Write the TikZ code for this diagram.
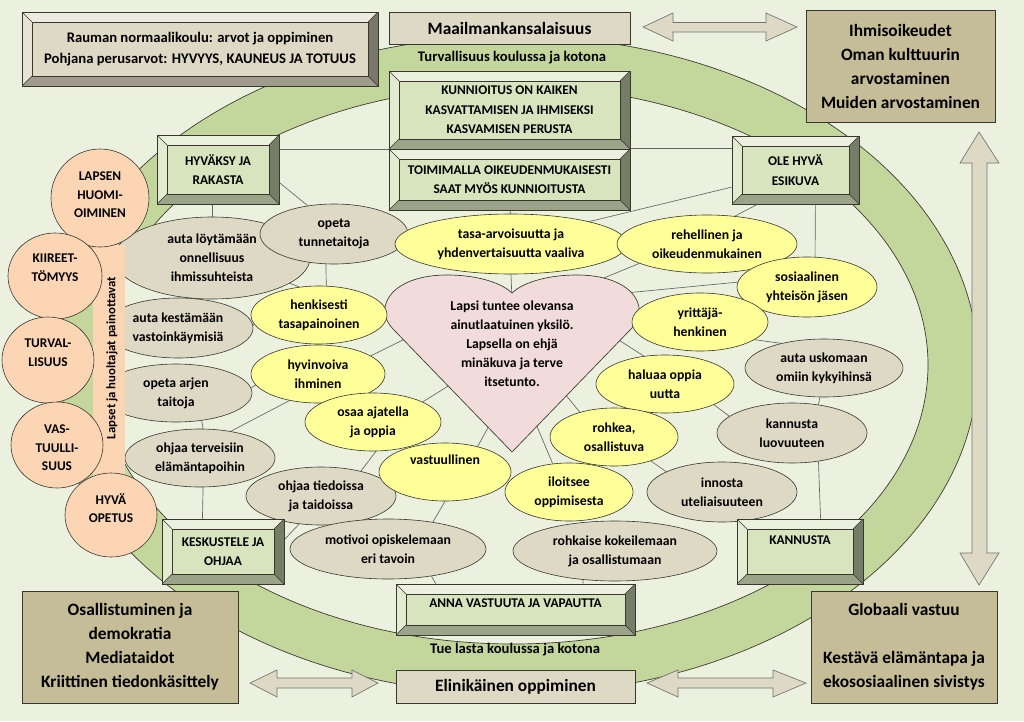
\documentclass[tikz,border=0pt]{standalone}
\usepackage{fontspec}
\setmainfont{Carlito}
\usetikzlibrary{shapes.geometric,calc}
\pgfdeclarelayer{ringl}\pgfdeclarelayer{conn}
\pgfsetlayers{ringl,conn,main}
\definecolor{bgc}{RGB}{235,241,222}
\definecolor{ringc}{RGB}{195,214,155}
\definecolor{tanl}{RGB}{221,217,196}
\definecolor{tand}{RGB}{196,189,151}
\definecolor{boxg}{RGB}{215,228,189}
\definecolor{ylw}{RGB}{255,255,153}
\definecolor{peach}{RGB}{252,213,181}
\definecolor{pinkh}{RGB}{242,220,219}
\definecolor{edge}{RGB}{55,55,45}
\newcommand\fnE{\bfseries\fontsize{10.3}{14.2}\selectfont}
\newcommand\fnC{\bfseries\fontsize{10}{14.5}\selectfont}
\newcommand\fnB{\bfseries\fontsize{13}{18}\selectfont}
\newcommand\fnT{\bfseries\fontsize{11}{15.75}\selectfont}
\newcommand\fnK{\bfseries\fontsize{10}{14}\selectfont}
\newcommand\fnV{\bfseries\fontsize{9.6}{12}\selectfont}
\tikzset{
 el/.style 2 args={ellipse, draw=edge, line width=.45pt, inner sep=0pt, align=center, font=\fnE, minimum width={#1*1.5pt}, minimum height={#2*1.5pt}},
 gel/.style 2 args={el={#1}{#2}, fill=tanl},
 yel/.style 2 args={el={#1}{#2}, fill=ylw},
 circ/.style 2 args={ellipse, draw=edge, fill=peach, line width=.45pt, inner sep=0pt, minimum width={#1*1.5pt}, minimum height={#2*1.5pt}},
 ctext/.style={align=center, font=\fnK},
 flat/.style={rectangle, draw=edge, line width=.6pt, inner sep=0pt, align=center, font=\fnB},
 bevel/.style={rectangle, draw=edge, line width=.6pt, inner sep=0pt, align=center,
  path picture={
   \path (path picture bounding box.north west) coordinate (bnw)
         (path picture bounding box.north east) coordinate (bne)
         (path picture bounding box.south west) coordinate (bsw)
         (path picture bounding box.south east) coordinate (bse);
   \fill[white, fill opacity=.5] (bnw) -- (bne) -- ([xshift=-7.5pt,yshift=-7.5pt]bne) -- ([xshift=7.5pt,yshift=-7.5pt]bnw) -- cycle;
   \fill[white, fill opacity=.3] (bnw) -- (bsw) -- ([xshift=7.5pt,yshift=7.5pt]bsw) -- ([xshift=7.5pt,yshift=-7.5pt]bnw) -- cycle;
   \fill[black, fill opacity=.45] (bne) -- (bse) -- ([xshift=-7.5pt,yshift=7.5pt]bse) -- ([xshift=-7.5pt,yshift=-7.5pt]bne) -- cycle;
   \fill[black, fill opacity=.28] (bsw) -- (bse) -- ([xshift=-7.5pt,yshift=7.5pt]bse) -- ([xshift=7.5pt,yshift=7.5pt]bsw) -- cycle;
   \draw[edge, line width=.4pt] ([xshift=7.5pt,yshift=-7.5pt]bnw) rectangle ([xshift=-7.5pt,yshift=7.5pt]bse);
   \draw[edge, line width=.4pt] (bnw) -- ([xshift=7.5pt,yshift=-7.5pt]bnw) (bne) -- ([xshift=-7.5pt,yshift=-7.5pt]bne)
     (bsw) -- ([xshift=7.5pt,yshift=7.5pt]bsw) (bse) -- ([xshift=-7.5pt,yshift=7.5pt]bse);
  }},
 gbox/.style={bevel, fill=boxg, font=\fnC},
 cn/.style={draw=black!60, line width=.5pt},
 arrw/.style={fill=tanl, draw=black!55, line width=.5pt},
}
\begin{document}
\begin{tikzpicture}[x=0.75pt, y=-0.75pt]
\useasboundingbox (0,0) rectangle (1024,721);
\begin{pgfonlayer}{ringl}
\fill[bgc] (0,0) rectangle (1024,721);
\draw[edge, line width=.5pt, fill=ringc, even odd rule] (513,365) ellipse [x radius=465, y radius=329] (513,365) ellipse [x radius=415, y radius=279];
\end{pgfonlayer}

% grey ellipses
\node[gel={98}{41}] (loyt) at (212,258) {auta löytämään\\onnellisuus\\ihmissuhteista};
\node[gel={74}{30}] (tunne) at (334,234) {opeta\\tunnetaitoja};
\node[gel={75}{30}] (kest) at (178,328) {auta kestämään\\vastoinkäymisiä};
\node[gel={76}{29}] (arjen) at (176,393) {opeta arjen\\taitoja};
\node[gel={75}{29}] (terv) at (200,458) {ohjaa terveisiin\\elämäntapoihin};
\node[gel={75}{29}] (tied) at (321,496) {ohjaa tiedoissa\\ja taidoissa};
\node[gel={98}{30}] (motiv) at (388,549) {motivoi opiskelemaan\\eri tavoin};
\node[gel={102}{30}] (rohk) at (615,551) {rohkaise kokeilemaan\\ja osallistumaan};
\node[gel={75}{30}] (innos) at (722,492) {innosta\\uteliaisuuteen};
\node[gel={75}{30}] (luov) at (792,433) {kannusta\\luovuuteen};
\node[gel={79}{29}] (uskom) at (824,368) {auta uskomaan\\omiin kykyihinsä};

% side bar
\fill[peach] (93,245) rectangle (125,480);
\node[rotate=90, font=\fnV] (lapset) at (112,358) {Lapset ja huoltajat painottavat};

% circles
\node[circ={49}{49}] (c1) at (100,198) {};
\node[ctext] (c1t) at (100,195) {LAPSEN\\HUOMI-\\OIMINEN};
\node[circ={47}{43}] (c2) at (55,276) {};
\node[ctext] (c2t) at (55,268) {KIIREET-\\TÖMYYS};
\node[circ={46}{43}] (c3) at (48,360) {};
\node[ctext] (c3t) at (48,353) {TURVAL-\\LISUUS};
\node[circ={46}{43}] (c4) at (57,445) {};
\node[ctext] (c4t) at (57,448) {VAS-\\TUULLI-\\SUUS};
\node[circ={46}{42}] (c5) at (111,515) {};
\node[ctext] (c5t) at (111,508) {HYVÄ\\OPETUS};

% heart
\draw[fill=pinkh, draw=edge, line width=.5pt] (512,452) -- (393,329) .. controls (372,307) and (392,275) .. (447,275) .. controls (482,275) and (504,285) .. (512,293) .. controls (520,285) and (542,275) .. (577,275) .. controls (632,275) and (652,307) .. (631,329) -- cycle;
\node[font=\fnE, align=center] (hearttxt) at (512,344) {Lapsi tuntee olevansa\\ainutlaatuinen yksilö.\\Lapsella on ehjä\\minäkuva ja terve\\itsetunto.};
\coordinate (hN) at (512,300);
\coordinate (hR1) at (594,282);
\coordinate (hR2) at (615,294);
\coordinate (hR3) at (614,337);
\coordinate (hR4) at (560,388);
\coordinate (hR5) at (533,417);
\coordinate (hL1) at (491,422);
\coordinate (hL2) at (453,383);
\coordinate (hL3) at (405,339);

% yellow ellipses
\node[yel={116}{30}] (tasa) at (511,244) {tasa-arvoisuutta ja\\yhdenvertaisuutta vaaliva};
\node[yel={90}{29}] (rehel) at (707,244) {rehellinen ja\\oikeudenmukainen};
\node[yel={70}{30}] (sos) at (807,287) {sosiaalinen\\yhteisön jäsen};
\node[yel={68}{29}] (yrit) at (700,322) {yrittäjä-\\henkinen};
\node[yel={69}{29}] (halu) at (665,384) {haluaa oppia\\uutta};
\node[yel={64}{29}] (rohkea) at (614,437) {rohkea,\\osallistuva};
\node[yel={68}{29}] (henk) at (319,315) {henkisesti\\tasapainoinen};
\node[yel={67}{29}] (hyvin) at (318,374) {hyvinvoiva\\ihminen};
\node[yel={68}{29}] (osaa) at (373,422) {osaa ajatella\\ja oppia};
\node[yel={66}{29}] (vast) at (445,472) {vastuullinen\\[4pt]\phantom{v}};
\node[yel={64}{29}] (iloit) at (569,492) {iloitsee\\oppimisesta};

% boxes
\node[bevel, fill=tanl, minimum width=267pt, minimum height=55.5pt, font=\fnT] (rauman) at (200,49) {Rauman normaalikoulu: arvot ja oppiminen\\Pohjana perusarvot: HYVYYS, KAUNEUS JA TOTUUS};
\node[flat, fill=tanl, minimum width=180.75pt, minimum height=24pt] (maail) at (509.5,28) {Maailmankansalaisuus};
\node[flat, fill=tand, minimum width=141.75pt, minimum height=84pt] (ihmis) at (900.5,66) {Ihmisoikeudet\\Oman kulttuurin\\arvostaminen\\Muiden arvostaminen};
\node[flat, fill=tand, minimum width=162pt, minimum height=84pt] (osal) at (130,647) {Osallistuminen ja\\demokratia\\Mediataidot\\Kriittinen tiedonkäsittely};
\node[flat, fill=tand, minimum width=139.5pt, minimum height=84pt] (glob) at (904,647) {Globaali vastuu\\[18pt]Kestävä elämäntapa ja\\ekososiaalinen sivistys};
\node[flat, fill=tanl, minimum width=179.25pt, minimum height=24.75pt] (elin) at (515.5,686.5) {Elinikäinen oppiminen};

\node[gbox, minimum width=180.75pt, minimum height=58.5pt] (kun) at (509.5,110) {KUNNIOITUS ON KAIKEN\\KASVATTAMISEN JA IHMISEKSI\\KASVAMISEN PERUSTA};
\node[gbox, minimum width=180.75pt, minimum height=45.75pt] (toim) at (509.5,179.5) {TOIMIMALLA OIKEUDENMUKAISESTI\\SAAT MYÖS KUNNIOITUSTA};
\node[gbox, minimum width=91.5pt, minimum height=51.75pt] (hyv) at (218,169.5) {HYVÄKSY JA\\RAKASTA};
\node[gbox, minimum width=95.25pt, minimum height=51pt] (ole) at (795.5,170) {OLE HYVÄ\\ESIKUVA};
\node[gbox, minimum width=91.5pt, minimum height=48.75pt] (kesk) at (223,551.5) {KESKUSTELE JA\\OHJAA};
\node[gbox, minimum width=94.5pt, minimum height=48.75pt] (kann) at (800,551.5) {KANNUSTA\\[3pt]\phantom{K}};
\node[gbox, minimum width=179.25pt, minimum height=38.25pt] (anna) at (515.5,609.5) {ANNA VASTUUTA JA VAPAUTTA\\[-4.5pt]\phantom{A}};

\node[font=\fnT] (turvtxt) at (512,58) {Turvallisuus koulussa ja kotona};
\node[font=\fnT] (tuetxt) at (515,650) {Tue lasta koulussa ja kotona};

% arrows
\draw[arrw] (643,27) -- (673,13) -- (673,22.5) -- (766,22.5) -- (766,13) -- (797,27) -- (766,41) -- (766,32) -- (673,32) -- (673,41) -- cycle;
\draw[arrw] (250,683) -- (277,670) -- (277,678) -- (352,678) -- (352,670) -- (378,683) -- (352,697) -- (352,688) -- (277,688) -- (277,697) -- cycle;
\draw[arrw] (647,683) -- (678,670) -- (678,678) -- (773,678) -- (773,670) -- (806,683) -- (773,697) -- (773,688) -- (678,688) -- (678,697) -- cycle;
\draw[arrw] (979,132) -- (999,163) -- (987,163) -- (987,553) -- (999,553) -- (979,585) -- (960,553) -- (972,553) -- (972,163) -- (960,163) -- cycle;

% connectors
\begin{pgfonlayer}{conn}
\draw[cn] (hyv.east |- kun.south west) -- (kun.south west);
\draw[cn] (toim.north east) -- (ole.west |- toim.north east);
\draw[cn] (loyt.north) -- (loyt.north |- hyv.south);
\draw[cn] (hyv.-12) -- (tunne.133);
\draw[cn] (toim.south) -- (tasa.north);
\draw[cn] (tasa.south) -- (hN);
\draw[cn] (ole.195) -- (tasa.16);
\draw[cn] (ole.222) -- (rehel.45);
\draw[cn] (ole.-60) -- (sos.75);
\draw[cn] (rehel.196) -- (hR1);
\draw[cn] (sos.176) -- (hR2);
\draw[cn] (yrit.-18) -- (uskom.150);
\draw[cn] (halu.127) -- (hR3);
\draw[cn] (halu.-23) -- (luov.165);
\draw[cn] (rohkea.144) -- (hR4);
\draw[cn] (rohkea.-33) -- (innos.160);
\draw[cn] (iloit.120) -- (hR5);
\draw[cn] (vast.38) -- (hL1);
\draw[cn] (vast.-90) -- (motiv.31);
\draw[cn] (osaa.22) -- (hL2);
\draw[cn] (osaa.-84) -- (tied.32);
\draw[cn] (hyvin.19) -- (hL3);
\draw[cn] (hyvin.190) -- (arjen.4);
\draw[cn] (hyvin.223) -- (terv.41);
\draw[cn] (henk.188) -- (kest.2);
\draw[cn] (tunne.255) -- (henk.76);
\draw[cn] (loyt.-18) -- (henk.125);
\draw[cn] (arjen.-47) -- (terv.84);
\draw[cn] (terv.-84) -- (kesk.122);
\draw[cn] (kesk.11) -- (tied.232);
\draw[cn] (motiv.-32) -- (anna.162);
\draw[cn] (rohk.222) -- (anna.21);
\draw[cn] (kann.58) -- (luov.-47);
\draw[cn] (uskom.-98) -- (luov.47);
\end{pgfonlayer}
\end{tikzpicture}
\end{document}
